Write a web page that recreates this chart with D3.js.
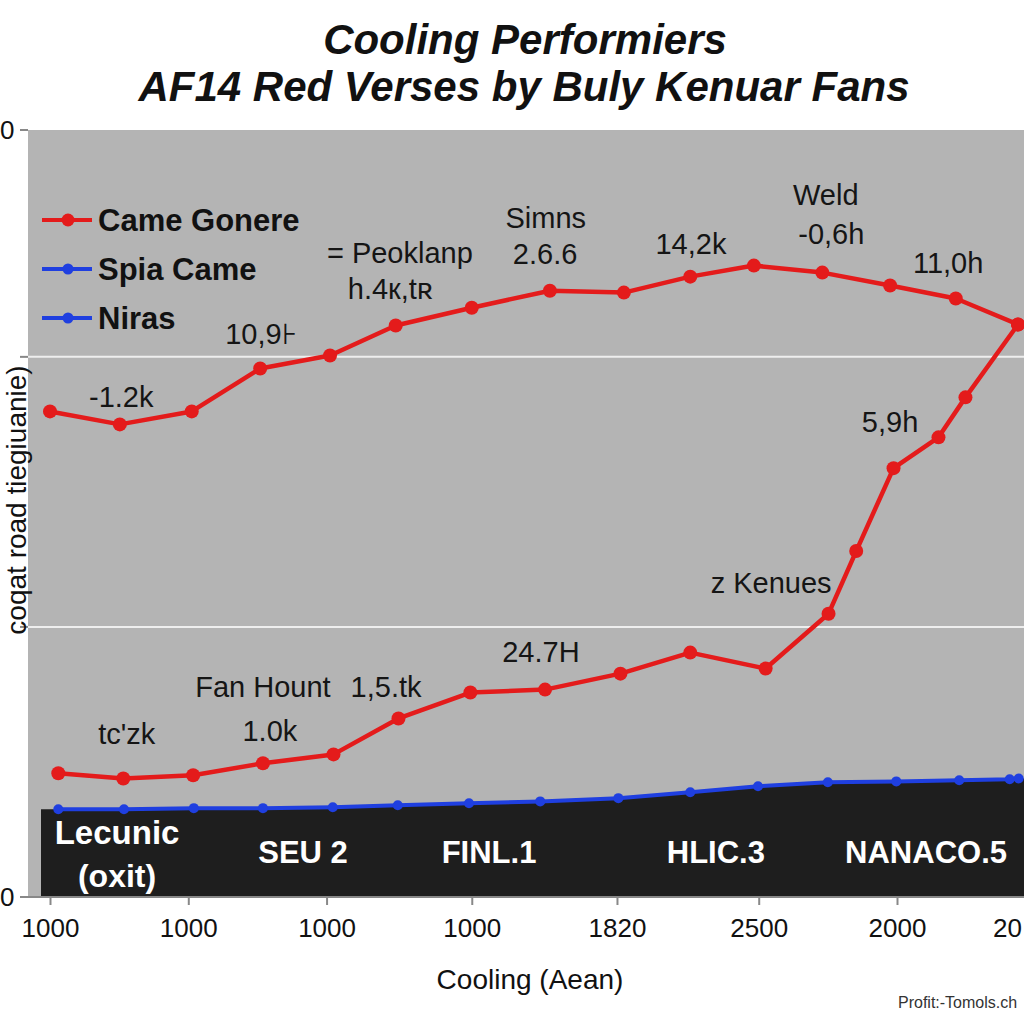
<!DOCTYPE html>
<html><head><meta charset="utf-8">
<script src="https://cdn.jsdelivr.net/npm/d3@7/dist/d3.min.js"></script>
<style>body{margin:0;background:#fff}svg{display:block}text{font-family:"Liberation Sans",Arial,sans-serif}</style>
</head><body>
<svg id="c" width="1024" height="1024"></svg>
<script>
// ---- data ----
const upperX = [0, 1.01, 2.05, 3.04, 4.05, 5.0, 6.1, 7.23, 8.3, 9.26, 10.18, 11.17, 12.15, 13.1, 14];
const upperY = [17.98, 17.5, 17.98, 19.57, 20.05, 21.16, 21.82, 22.45, 22.38, 22.97, 23.38, 23.12, 22.64, 22.16, 21.2];
const lowerX = [0.12, 1.06, 2.07, 3.08, 4.1, 5.04, 6.08, 7.16, 8.25, 9.26, 10.35, 11.26, 11.66, 12.2, 12.85, 13.24, 14];
const lowerY = [4.58, 4.39, 4.51, 4.95, 5.28, 6.61, 7.57, 7.68, 8.27, 9.05, 8.46, 10.49, 12.81, 15.88, 17.02, 18.5, 21.2];
const blueX = [0.12, 1.07, 2.08, 3.08, 4.09, 5.03, 6.06, 7.09, 8.22, 9.26, 10.24, 11.25, 12.24, 13.15, 13.88, 14.01];
const blueY = [3.25, 3.25, 3.29, 3.29, 3.32, 3.4, 3.47, 3.54, 3.66, 3.88, 4.1, 4.25, 4.28, 4.32, 4.36, 4.39];
const xTickVals = [0, 2, 4, 6.1, 8.2, 10.25, 12.25];
const xTickLabels = ["1000", "1000", "1000", "1000", "1820", "2500", "2000"];
const xLastLabel = {x: 14.2, t: "20"};
const yTickVals = [0, 28.4];
const yTickLabels = ["0", "0"];
const gridVals = [10, 20];
const legendNames = ["Came Gonere", "Spia Came", "Niras"];
const bandLabels = [
  {x: 3.66, t: "SEU 2"}, {x: 6.35, t: "FINL.1"}, {x: 9.63, t: "HLIC.3"}, {x: 12.67, t: "NANACO.5"}
];
const annotations = [
  {x: 1.03, y: 18.54, t: "-1.2k"},
  {x: 3.05, y: 20.86, t: "10,9⊦"},
  {x: 5.06, y: 23.85, t: "= Peoklanp"},
  {x: 4.92, y: 22.53, t: "h.4к,tʀ"},
  {x: 7.17, y: 25.15, t: "Simns"},
  {x: 7.16, y: 23.82, t: "2.6.6"},
  {x: 9.27, y: 24.19, t: "14,2k"},
  {x: 11.22, y: 26.0, t: "Weld"},
  {x: 11.3, y: 24.56, t: "-0,6h"},
  {x: 12.99, y: 23.49, t: "11,0h"},
  {x: 12.15, y: 17.61, t: "5,9h"},
  {x: 10.43, y: 11.63, t: "z Kenues"},
  {x: 7.1, y: 9.08, t: "24.7H"},
  {x: 3.08, y: 7.79, t: "Fan Hount"},
  {x: 4.86, y: 7.79, t: "1,5.tk"},
  {x: 1.11, y: 6.06, t: "tc'zk"},
  {x: 3.18, y: 6.17, t: "1.0k"}
];

// ---- scales ----
const svg = d3.select("#c");
const x = d3.scaleLinear().domain([0, 14]).range([50, 1018]);
const y = d3.scaleLinear().domain([0, 28.4]).range([897, 130]);
const RED = "#e41b1b", BLUE = "#1f3fe0";

// title
svg.append("text").attr("x", 525).attr("y", 54).attr("text-anchor", "middle")
  .attr("font-size", 42).attr("font-weight", "bold").attr("font-style", "italic").attr("fill", "#111").text("Cooling Performiers");
svg.append("text").attr("x", 524).attr("y", 101).attr("text-anchor", "middle")
  .attr("font-size", 42).attr("font-weight", "bold").attr("font-style", "italic").attr("fill", "#111").text("AF14 Red Verses by Buly Kenuar Fans");

// plot background
svg.append("rect").attr("x", 28).attr("y", 130).attr("width", 996).attr("height", 767).attr("fill", "#b4b4b4");

// gridlines
svg.selectAll(".grid").data(gridVals).join("line")
  .attr("x1", 28).attr("x2", 1024).attr("y1", d => y(d)).attr("y2", d => y(d))
  .attr("stroke", "#eeeeee").attr("stroke-width", 2);
svg.selectAll(".gtick").data(gridVals.concat(yTickVals)).join("line")
  .attr("x1", 20).attr("x2", 28).attr("y1", d => y(d)).attr("y2", d => y(d))
  .attr("stroke", "#888").attr("stroke-width", 2);

// dark band (area under blue line)
const areaPts = [[-0.13, blueY[0]]].concat(blueX.map((v, i) => [v, blueY[i]])).concat([[14.2, blueY[blueY.length-1]]]);
svg.append("path").datum(areaPts)
  .attr("d", d3.area().x(d => x(d[0])).y0(y(0)).y1(d => y(d[1])))
  .attr("fill", "#1e1e1e");

// x axis
const xAxis = d3.axisBottom(x).tickValues(xTickVals).tickFormat((d, i) => xTickLabels[i]).tickSize(8).tickPadding(14);
const gx = svg.append("g").attr("transform", `translate(0,${y(0)})`).call(xAxis);
gx.select(".domain").attr("stroke", "#888").attr("stroke-width", 2).attr("d", "M20,0H1024");
gx.selectAll(".tick line").attr("stroke", "#888").attr("stroke-width", 2);
gx.selectAll(".tick text").attr("font-size", 26).attr("fill", "#111").attr("font-family", "Liberation Sans, Arial, sans-serif");
svg.append("text").attr("x", 1022).attr("y", y(0) + 22).attr("dy", "0.71em").attr("text-anchor", "end")
  .attr("font-size", 26).attr("fill", "#111").text(xLastLabel.t);

// y tick labels
svg.selectAll(".ylab").data(yTickVals).join("text")
  .attr("x", 0).attr("y", d => y(d)).attr("dy", "0.36em")
  .attr("font-size", 26).attr("fill", "#111").text((d, i) => yTickLabels[i]);

// y axis title
svg.append("text").attr("transform", "translate(26,500) rotate(-90)").attr("text-anchor", "middle")
  .attr("font-size", 28).attr("fill", "#111").text("coqat road tiegiuanie)");

// band labels
svg.append("text").attr("x", x(0.97)).attr("y", 844).attr("text-anchor", "middle")
  .attr("font-size", 33).attr("font-weight", "bold").attr("fill", "#fff").text("Lecunic");
svg.append("text").attr("x", x(0.97)).attr("y", 887).attr("text-anchor", "middle")
  .attr("font-size", 32).attr("font-weight", "bold").attr("fill", "#fff").text("(oxit)");
svg.selectAll(".blab").data(bandLabels).join("text")
  .attr("x", d => x(d.x)).attr("y", 863).attr("text-anchor", "middle")
  .attr("font-size", 31).attr("font-weight", "bold").attr("fill", "#fff").text(d => d.t);

// lines
const line = d3.line().x(d => x(d[0])).y(d => y(d[1]));
function series(xs, ys, color, r, w) {
  const pts = xs.map((v, i) => [v, ys[i]]);
  svg.append("path").datum(pts).attr("d", line).attr("fill", "none").attr("stroke", color).attr("stroke-width", w).attr("stroke-linejoin", "round");
  svg.append("g").selectAll("circle").data(pts).join("circle")
    .attr("cx", d => x(d[0])).attr("cy", d => y(d[1])).attr("r", r).attr("fill", color);
}
series(blueX, blueY, BLUE, 5, 4);
series(lowerX, lowerY, RED, 7, 4.5);
series(upperX, upperY, RED, 7, 4.5);

// annotations
svg.selectAll(".ann").data(annotations).join("text")
  .attr("x", d => x(d.x)).attr("y", d => y(d.y)).attr("dy", "0.36em").attr("text-anchor", "middle")
  .attr("font-size", 29).attr("fill", "#151515").text(d => d.t);

// legend
const legColors = [RED, BLUE, BLUE];
const lg = svg.append("g");
legendNames.forEach((n, i) => {
  const ly = 220 + i * 49;
  lg.append("line").attr("x1", 42).attr("x2", 92).attr("y1", ly).attr("y2", ly).attr("stroke", legColors[i]).attr("stroke-width", 4);
  lg.append("circle").attr("cx", 68).attr("cy", ly).attr("r", i === 0 ? 6.5 : 5.5).attr("fill", legColors[i]);
  lg.append("text").attr("x", 98).attr("y", ly).attr("dy", "0.36em").attr("font-size", 31).attr("font-weight", "bold").attr("fill", "#111").text(n);
});

// x axis title and credit
svg.append("text").attr("x", 530).attr("y", 989).attr("text-anchor", "middle").attr("font-size", 28).attr("fill", "#111").text("Cooling (Aean)");
svg.append("text").attr("x", 898).attr("y", 1008).attr("font-size", 16).attr("fill", "#333").text("Profit:-Tomols.ch");
</script>
</body></html>
